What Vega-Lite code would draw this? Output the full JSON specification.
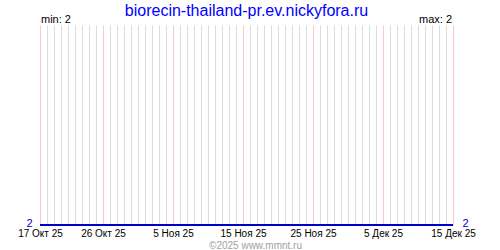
{
  "$schema": "https://vega.github.io/schema/vega-lite/v6.json",
  "width": 413,
  "height": 200,
  "autosize": "none",
  "padding": {"left": 40, "top": 25, "right": 47, "bottom": 25},
  "background": "white",
  "config": {"view": {"stroke": null}, "font": "Liberation Sans"},
  "title": {"text": "biorecin-thailand-pr.ev.nickyfora.ru", "color": "#0000ff", "fontSize": 16, "fontWeight": "normal", "font": "Liberation Sans", "anchor": "middle", "frame": "group", "offset": -5},
  "data": {"values": [
    {"date": "2025-10-17", "value": 2}, {"date": "2025-10-18", "value": 2}, {"date": "2025-10-19", "value": 2}, {"date": "2025-10-20", "value": 2},
    {"date": "2025-10-21", "value": 2}, {"date": "2025-10-22", "value": 2}, {"date": "2025-10-23", "value": 2}, {"date": "2025-10-24", "value": 2},
    {"date": "2025-10-25", "value": 2}, {"date": "2025-10-26", "value": 2}, {"date": "2025-10-27", "value": 2}, {"date": "2025-10-28", "value": 2},
    {"date": "2025-10-29", "value": 2}, {"date": "2025-10-30", "value": 2}, {"date": "2025-10-31", "value": 2},
    {"date": "2025-11-01", "value": 2}, {"date": "2025-11-02", "value": 2}, {"date": "2025-11-03", "value": 2}, {"date": "2025-11-04", "value": 2},
    {"date": "2025-11-05", "value": 2}, {"date": "2025-11-06", "value": 2}, {"date": "2025-11-07", "value": 2}, {"date": "2025-11-08", "value": 2},
    {"date": "2025-11-09", "value": 2}, {"date": "2025-11-10", "value": 2}, {"date": "2025-11-11", "value": 2}, {"date": "2025-11-12", "value": 2},
    {"date": "2025-11-13", "value": 2}, {"date": "2025-11-14", "value": 2}, {"date": "2025-11-15", "value": 2}, {"date": "2025-11-16", "value": 2},
    {"date": "2025-11-17", "value": 2}, {"date": "2025-11-18", "value": 2}, {"date": "2025-11-19", "value": 2}, {"date": "2025-11-20", "value": 2},
    {"date": "2025-11-21", "value": 2}, {"date": "2025-11-22", "value": 2}, {"date": "2025-11-23", "value": 2}, {"date": "2025-11-24", "value": 2},
    {"date": "2025-11-25", "value": 2}, {"date": "2025-11-26", "value": 2}, {"date": "2025-11-27", "value": 2}, {"date": "2025-11-28", "value": 2},
    {"date": "2025-11-29", "value": 2}, {"date": "2025-11-30", "value": 2},
    {"date": "2025-12-01", "value": 2}, {"date": "2025-12-02", "value": 2}, {"date": "2025-12-03", "value": 2}, {"date": "2025-12-04", "value": 2},
    {"date": "2025-12-05", "value": 2}, {"date": "2025-12-06", "value": 2}, {"date": "2025-12-07", "value": 2}, {"date": "2025-12-08", "value": 2},
    {"date": "2025-12-09", "value": 2}, {"date": "2025-12-10", "value": 2}, {"date": "2025-12-11", "value": 2}, {"date": "2025-12-12", "value": 2},
    {"date": "2025-12-13", "value": 2}, {"date": "2025-12-14", "value": 2}, {"date": "2025-12-15", "value": 2}
  ]},
  "layer": [
    {
      "mark": {"type": "line", "color": "#0000cc", "strokeWidth": 2, "clip": false},
      "encoding": {
        "x": {
          "field": "date", "type": "temporal",
          "scale": {"type": "utc", "domain": [{"year": 2025, "month": 10, "date": 17, "utc": true}, {"year": 2025, "month": 12, "date": 15, "utc": true}]},
          "axis": {
            "tickCount": {"interval": "day", "step": 1},
            "grid": true,
            "gridColor": {"condition": {"test": "(utcmonth(datum.value)==9 && (utcdate(datum.value)==17 || utcdate(datum.value)==26)) || (utcmonth(datum.value)>9 && utcdate(datum.value)%10==5)", "value": "#ffc8c8"}, "value": "#dcdcdc"},
            "gridOpacity": 1,
            "gridWidth": 1,
            "domain": false,
            "ticks": false,
            "tickSize": 0,
            "labelExpr": "((utcmonth(datum.value)==9 && (utcdate(datum.value)==17 || utcdate(datum.value)==26)) || (utcmonth(datum.value)>9 && utcdate(datum.value)%10==5)) ? utcdate(datum.value) + ' ' + ['Янв','Фев','Мар','Апр','Май','Июн','Июл','Авг','Сен','Окт','Ноя','Дек'][utcmonth(datum.value)] + ' 25' : ''",
            "labelOverlap": false,
            "labelBound": false,
            "labelFlush": false,
            "labelFont": "Liberation Sans",
            "labelFontSize": 10,
            "labelColor": "#000000",
            "labelPadding": 3,
            "labelAngle": 0,
            "title": "©2025 www.mmnt.ru",
            "titleFont": "Liberation Sans",
            "titleFontSize": 10,
            "titleFontWeight": "normal",
            "titleColor": "#a0a0a0",
            "titlePadding": 2,
            "titleX": 215
          }
        },
        "y": {
          "field": "value", "type": "quantitative",
          "scale": {"domain": [2, 3], "nice": false, "zero": false},
          "axis": {"orient": "left", "values": [2], "grid": false, "domain": false, "ticks": false, "tickSize": 0, "labelPadding": 8, "labelColor": "#0000cc", "labelFont": "Liberation Sans", "labelFontSize": 11, "labelBaseline": "middle", "labelOffset": -2, "title": null}
        }
      }
    },
    {
      "data": {"values": [{"label": "min: 2", "date": "2025-10-17", "pos": 3}]},
      "mark": {"type": "text", "align": "left", "baseline": "alphabetic", "dx": 1, "dy": -2, "font": "Liberation Sans", "fontSize": 11, "color": "#000000"},
      "encoding": {
        "x": {"field": "date", "type": "temporal"},
        "y": {"field": "pos", "type": "quantitative", "axis": {"orient": "right", "values": [2], "grid": false, "domain": false, "ticks": false, "tickSize": 0, "labelPadding": 9, "labelColor": "#0000cc", "labelFont": "Liberation Sans", "labelFontSize": 11, "labelBaseline": "middle", "labelOffset": -2, "title": null}},
        "text": {"field": "label"}
      }
    },
    {
      "data": {"values": [{"label": "max: 2", "date": "2025-12-15", "pos": 3}]},
      "mark": {"type": "text", "align": "right", "baseline": "alphabetic", "dx": -1, "dy": -2, "font": "Liberation Sans", "fontSize": 11, "color": "#000000"},
      "encoding": {
        "x": {"field": "date", "type": "temporal"},
        "y": {"field": "pos", "type": "quantitative", "axis": null},
        "text": {"field": "label"}
      }
    }
  ],
  "resolve": {"axis": {"y": "independent"}}
}
